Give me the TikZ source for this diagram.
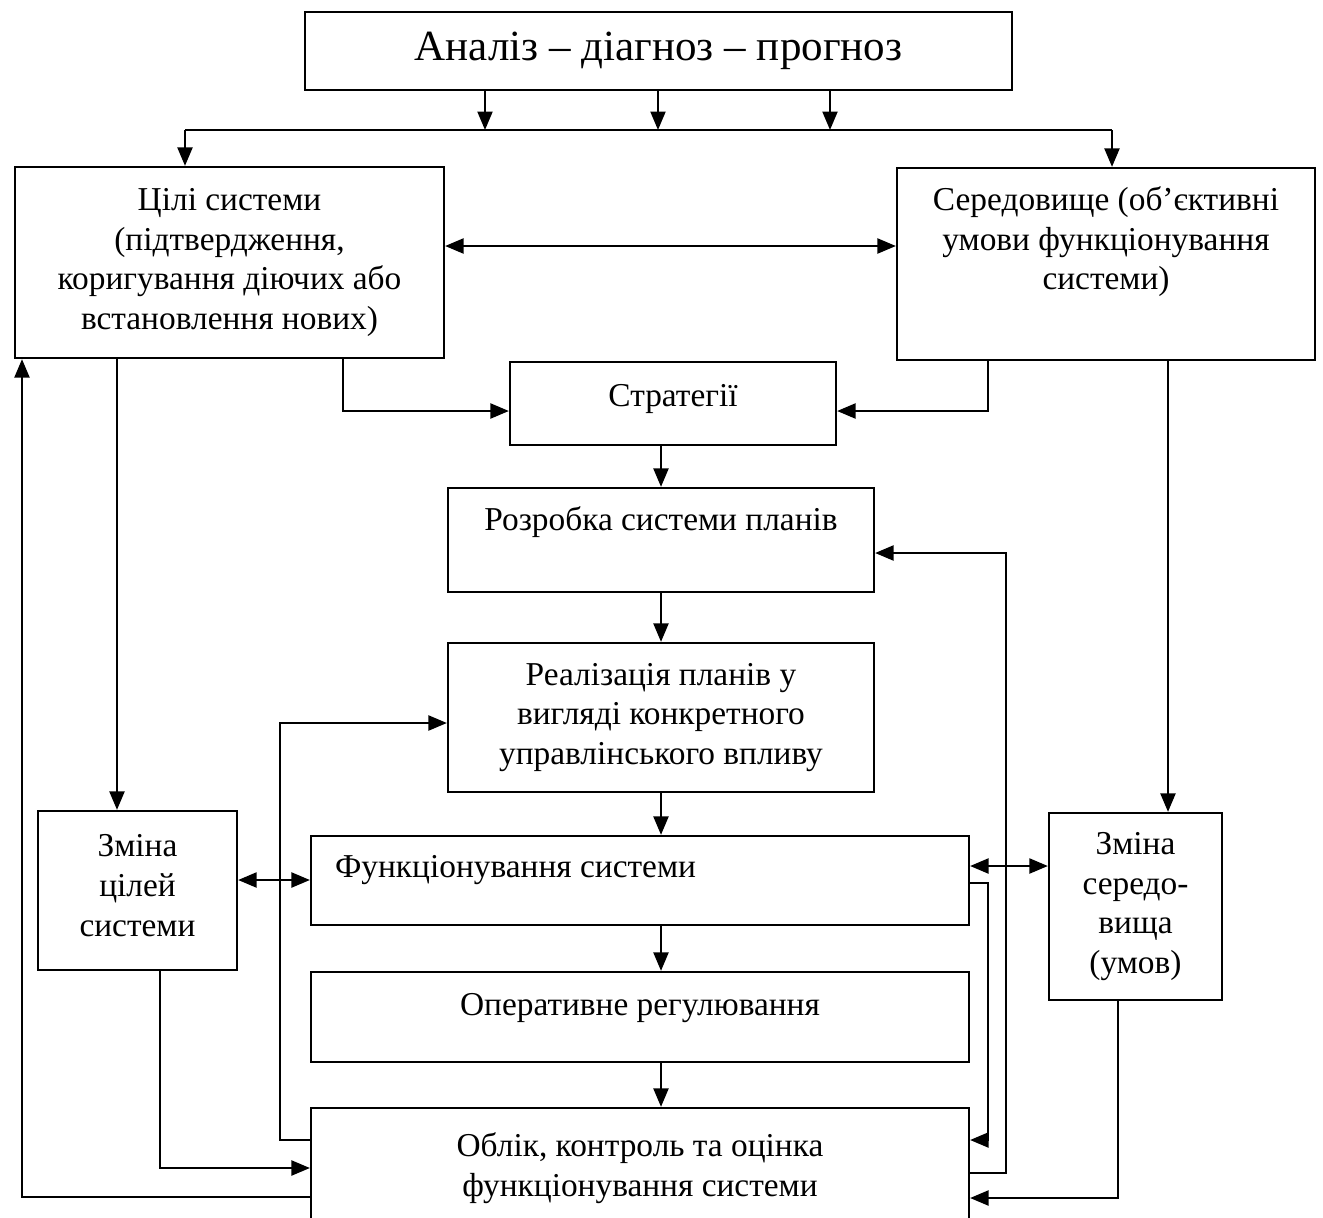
\documentclass[tikz,border=0pt]{standalone}
\usepackage{fontspec}
\setmainfont{Liberation Serif}
\usetikzlibrary{arrows.meta}

\begin{document}
\begin{tikzpicture}[x=0.02cm, y=-0.02cm, line width=1.3pt,
    box/.style={draw, align=center, inner sep=0pt, font=\fontsize{19}{22.7}\selectfont},
    arr/.style={-{Triangle[length=10.5pt,width=8.5pt]}},
    dbl/.style={{Triangle[length=10.5pt,width=8.5pt]}-{Triangle[length=10.5pt,width=8.5pt]}}]
  \useasboundingbox (0,0) rectangle (1323,1218);

  % boxes
  \node[box, minimum width=14.14cm, minimum height=1.56cm, font=\fontsize{24.5}{29}\selectfont] (ana) at (658.5,51) {Аналіз – діагноз – прогноз};
  \node[box, minimum width=8.58cm, minimum height=3.82cm] (goals) at (229.5,262.5) {Цілі системи\\(підтвердження,\\коригування діючих або\\встановлення нових)};
  \node[box, minimum width=8.36cm, minimum height=3.84cm] (env) at (1106,264) {Середовище (об’єктивні\\умови функціонування\\системи)\\\strut};
  \node[box, minimum width=6.52cm, minimum height=1.66cm, text depth=9pt] (strat) at (673,403.5) {Стратегії};
  \node[box, minimum width=8.52cm, minimum height=2.08cm, text depth=24.5pt] (plans) at (661,540) {Розробка системи планів};
  \node[box, minimum width=8.52cm, minimum height=2.98cm] (impl) at (661,717.5) {Реалізація планів у\\вигляді конкретного\\управлінського впливу};
  \node[box, minimum width=13.16cm, minimum height=1.78cm, inner xsep=0.48cm, text width=12.2cm, align=flush left, text depth=15.5pt] (func) at (640,880.5) {Функціонування системи};
  \node[box, minimum width=13.16cm, minimum height=1.8cm, text depth=14.5pt] (oper) at (640,1017) {Оперативне регулювання};
  \node[box, minimum width=13.16cm, minimum height=2.4cm] (acc) at (640,1168) {Облік, контроль та оцінка\\функціонування системи};
  \node[box, minimum width=3.98cm, minimum height=3.18cm] (chgoal) at (137.5,890.5) {Зміна\\цілей\\системи\\[-17pt]\mbox{}};
  \node[box, minimum width=3.46cm, minimum height=3.74cm] (chenv) at (1135.5,906.5) {Зміна\\середо-\\вища\\(умов)};

  % top distribution
  \coordinate (busL) at (185,130);
  \coordinate (busR) at (1112,130);
  \foreach \x in {485,658,830}
    \draw[arr] (ana.south -| \x,0) -- (busL -| \x,0);
  \draw (busL) -- (busR);
  \draw[arr] (busL) -- (busL |- goals.north);
  \draw[arr] (busR) -- (busR |- env.north);
  \draw[dbl] (goals.east |- 0,246) -- (env.west |- 0,246);

  % main chain
  \draw[arr] (goals.south -| 343,0) |- (strat.west |- 0,411);
  \draw[arr] (env.south -| 988,0) |- (strat.east |- 0,411);
  \draw[arr] (strat.south -| plans) -- (plans);
  \draw[arr] (plans) -- (impl);
  \draw[arr] (impl.south) -- (impl.south |- func.north);
  \draw[arr] (impl.south |- func.south) -- (impl.south |- oper.north);
  \draw[arr] (impl.south |- oper.south) -- (impl.south |- acc.north);

  % changes
  \draw[arr] (goals.south -| 117,0) -- (chgoal.north -| 117,0);
  \draw[arr] (env.south -| 1168,0) -- (chenv.north -| 1168,0);
  \draw[dbl] (chgoal.east |- 0,880) -- (func.west |- 0,880);
  \draw[dbl] (func.east |- 0,866) -- (chenv.west |- 0,866);

  % feedback
  \draw[arr] (acc.west |- 0,1140) -| (280,723) -- (impl.west |- 0,723);
  \draw[arr] (chgoal.south -| 160,0) |- (acc.west |- 0,1168);
  \draw[arr] (acc.west |- 0,1197) -| (goals.south -| 22,0);
  \draw[arr] (func.east |- 0,883) -| (988,1140) -- (acc.east |- 0,1140);
  \draw[arr] (acc.east |- 0,1173) -| (1006,553) -- (plans.east |- 0,553);
  \draw[arr] (chenv.south -| 1118,0) |- (acc.east |- 0,1198);
\end{tikzpicture}
\end{document}
